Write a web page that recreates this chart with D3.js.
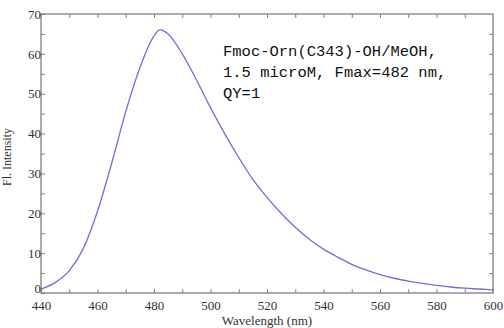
<!DOCTYPE html>
<html><head><meta charset="utf-8">
<script src="https://cdn.jsdelivr.net/npm/d3@7"></script>
<style>body{margin:0;background:#fff}svg{display:block}</style>
</head><body>
<svg id="c" width="504" height="328"></svg>
<script>
const wavelengths=[440,445,450,455,460,465,470,475,480,482,485,490,495,500,505,510,515,520,525,530,535,540,545,550,555,560,565,570,575,580,585,590,595,600];
const intensity=[1.0,2.6,5.6,11.2,20.5,32.5,45.5,56.5,64.5,66,65,60,53.5,46.5,40,34,28.5,24,20,16.5,13.5,11,9,7.2,5.8,4.6,3.7,3.0,2.4,1.9,1.5,1.2,1.0,0.8];
const xTickLabels=[440,460,480,500,520,540,560,580,600];
const yTickLabels=[0,10,20,30,40,50,60,70];
const annotation=["Fmoc-Orn(C343)-OH/MeOH,","1.5 microM, Fmax=482 nm,","QY=1"];

const svg=d3.select("#c");
const L=41,R=493,T=14,B=293;
const x=d3.scaleLinear().domain([440,600]).range([L,R]);
const y=d3.scaleLinear().domain([0,70]).range([B,T]);
const axisCol="#808080", txtCol="#333";
const serif="'Liberation Serif','Times New Roman',serif";

svg.append("rect").attr("x",L).attr("y",T).attr("width",R-L).attr("height",B-T)
  .attr("fill","none").attr("stroke",axisCol).attr("stroke-width",1.3);

function style(g){g.select(".domain").remove();g.selectAll("line").attr("stroke",axisCol).attr("stroke-width",1);
  g.selectAll("text").attr("fill",txtCol).attr("font-family",serif).attr("font-size",13);}

svg.append("g").attr("transform",`translate(0,${B})`)
  .call(d3.axisBottom(x).tickValues(d3.range(440,601,10)).tickSize(-4).tickPadding(8)
    .tickFormat(d=>xTickLabels.includes(d)?d:"")).call(style);
svg.append("g").attr("transform",`translate(0,${T})`)
  .call(d3.axisTop(x).tickValues(d3.range(450,600,10)).tickSize(-4).tickFormat("")).call(style);
const yAx=svg.append("g").attr("transform",`translate(${L},0)`)
  .call(d3.axisLeft(y).tickValues(d3.range(0,71,5)).tickSize(-4).tickPadding(0)
    .tickFormat(d=>yTickLabels.includes(d)?d:"")).call(style);
yAx.selectAll(".tick").filter(d=>d===0).select("text").attr("dy","-0.05em");
svg.append("g").attr("transform",`translate(${R},0)`)
  .call(d3.axisRight(y).tickValues(d3.range(5,70,5)).tickSize(-4).tickFormat("")).call(style);

const line=d3.line().x((d,i)=>x(wavelengths[i])).y(d=>y(d)).curve(d3.curveMonotoneX);
svg.append("path").datum(intensity).attr("d",line).attr("fill","none")
  .attr("stroke","#6f6fd6").attr("stroke-width",1.3);

svg.append("text").attr("x",267).attr("y",325).attr("text-anchor","middle")
  .attr("font-family",serif).attr("font-size",13).attr("fill",txtCol).text("Wavelength (nm)");
svg.append("text").attr("transform","translate(11,157) rotate(-90)").attr("text-anchor","middle")
  .attr("font-family",serif).attr("font-size",12).attr("fill",txtCol).text("Fl. Intensity");

svg.append("g").selectAll("text").data(annotation).join("text")
  .attr("x",223).attr("y",(d,i)=>56+i*21)
  .attr("font-family","'Liberation Mono','DejaVu Sans Mono',monospace")
  .attr("font-size",15.5).attr("fill","#111").text(d=>d);
</script>
</body></html>
